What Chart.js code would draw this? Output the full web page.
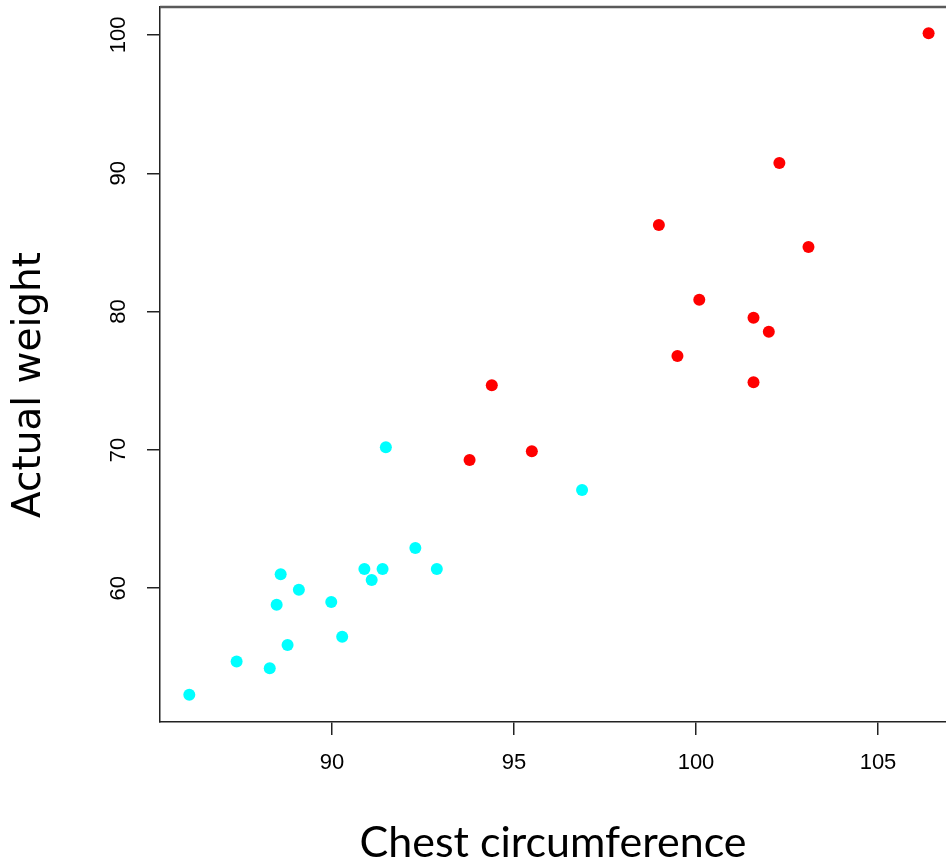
<!DOCTYPE html>
<html>
<head>
<meta charset="utf-8">
<script src="https://cdn.jsdelivr.net/npm/chart.js@4"></script>
<style>
  html, body { margin: 0; padding: 0; background: #fff; }
  #wrap { width: 946px; height: 865px; }
</style>
</head>
<body>
<div id="wrap"><canvas id="myChart"></canvas></div>
<script>
// data
let lowX  = [86.08, 87.38, 88.29, 88.78, 88.48, 88.59, 89.09, 89.98, 90.28, 90.89, 91.09, 91.39, 92.29, 92.88, 91.48, 96.87];
let lowY  = [52.30, 54.71, 54.21, 55.89, 58.81, 61.01, 59.89, 59.00, 56.49, 61.39, 60.59, 61.39, 62.91, 61.39, 70.19, 67.10];
let highX = [93.78, 94.39, 95.49, 98.98, 99.49, 100.09, 101.58, 101.58, 102.00, 102.29, 103.09, 106.39];
let highY = [69.27, 74.67, 69.90, 86.26, 76.79, 80.86, 79.56, 74.89, 78.55, 90.74, 84.67, 100.12];
let xTicks = [90, 95, 100, 105];
let yTicks = [60, 70, 80, 90, 100];
let xTitle = 'Chest circumference';
let yTitle = 'Actual weight';

let lowPts = lowX.map((x, i) => ({x: x, y: lowY[i]}));
let highPts = highX.map((x, i) => ({x: x, y: highY[i]}));

// no extra room for overhanging tick labels
function noPad(s) {
  s.paddingTop = 0;
  s.paddingBottom = 0;
  s.paddingLeft = 0;
  s.paddingRight = 0;
}

// top box line and the y axis title
let extras = {
  id: 'extras',
  afterDraw(chart) {
    let ctx = chart.ctx;
    let a = chart.chartArea;
    ctx.save();
    ctx.strokeStyle = '#5a5a5a';
    ctx.lineWidth = 2.5;
    ctx.beginPath();
    ctx.moveTo(a.left, a.top);
    ctx.lineTo(a.right, a.top);
    ctx.stroke();

    ctx.fillStyle = '#000';
    ctx.font = '39px "DejaVu Sans"';
    ctx.textAlign = 'center';
    ctx.textBaseline = 'middle';
    ctx.translate(30, 385);
    ctx.rotate(-Math.PI / 2);
    ctx.fillText(yTitle, 0, 0);
    ctx.restore();
  }
};

let mychart = document.getElementById('myChart').getContext('2d');

let chart = new Chart(mychart, {
  type: 'scatter',
  data: {
    datasets: [{
      data: lowPts,
      backgroundColor: '#00ffff',
      borderWidth: 0,
      pointRadius: 6,
      pointHoverRadius: 6
    }, {
      data: highPts,
      backgroundColor: '#ff0000',
      borderWidth: 0,
      pointRadius: 6,
      pointHoverRadius: 6
    }]
  },
  options: {
    responsive: true,
    maintainAspectRatio: false,
    animation: false,
    events: [],
    layout: {
      autoPadding: false,
      padding: {top: 7, right: 0, bottom: 0, left: 0}
    },
    plugins: {
      legend: {display: false},
      tooltip: {enabled: false}
    },
    scales: {
      x: {
        type: 'linear',
        min: 85.275,
        max: 106.868,
        afterBuildTicks: s => { s.ticks = xTicks.map(v => ({value: v})); },
        afterFit: s => { s.height = 143; noPad(s); },
        grid: {drawOnChartArea: false, drawTicks: true, tickLength: 13, tickColor: '#222', lineWidth: 1.5},
        border: {display: true, color: '#222', width: 1.5},
        ticks: {
          color: '#000',
          padding: 15,
          maxRotation: 0,
          font: {family: '"Liberation Sans", Arial', size: 22}
        },
        title: {
          display: true,
          text: xTitle,
          color: '#000',
          font: {family: 'Lato', size: 43},
          padding: {top: 0, bottom: -4}
        }
      },
      y: {
        type: 'linear',
        min: 50.33,
        max: 102.02,
        afterBuildTicks: s => { s.ticks = yTicks.map(v => ({value: v})); },
        afterFit: s => { s.width = 160; noPad(s); },
        grid: {drawOnChartArea: false, drawTicks: true, tickLength: 13, tickColor: '#222', lineWidth: 1.5},
        border: {display: true, color: '#222', width: 1.5},
        ticks: {
          color: '#000',
          padding: 10,
          minRotation: 90,
          maxRotation: 90,
          crossAlign: 'center',
          font: {family: '"Liberation Sans", Arial', size: 22}
        }
      }
    }
  },
  plugins: [extras]
});
</script>
</body>
</html>
